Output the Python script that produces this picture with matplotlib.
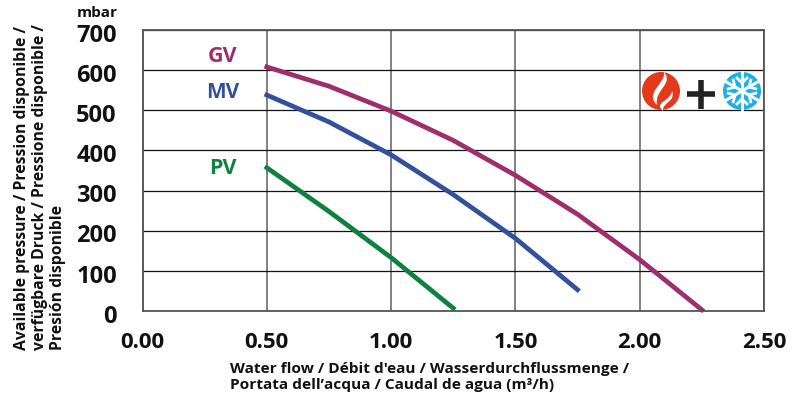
import matplotlib
matplotlib.use("Agg")
import matplotlib.pyplot as plt
from matplotlib.patches import Circle, PathPatch
from matplotlib.path import Path
from matplotlib.transforms import ScaledTranslation
import numpy as np

plt.rcParams['font.family'] = ['Open Sans', 'DejaVu Sans']

gv_x = [0.5, 0.75, 1.0, 1.25, 1.5, 1.75, 2.0, 2.25]
gv_y = [608, 560, 498, 425, 338, 241, 128, 3]
mv_x = [0.5, 0.75, 1.0, 1.25, 1.5, 1.75]
mv_y = [538, 471, 389, 290, 181, 53]
pv_x = [0.5, 0.75, 1.0, 1.25]
pv_y = [357, 248, 133, 7]
x_ticks = [0.0, 0.5, 1.0, 1.5, 2.0, 2.5]
y_ticks = [0, 100, 200, 300, 400, 500, 600, 700]
x_title = "Water flow / Débit d'eau / Wasserdurchflussmenge /\nPortata dell’acqua / Caudal de agua (m³/h)"
y_title = "Available pressure / Pression disponible /\nverfügbare Druck / Pressione disponible /\nPresión disponible"
GV, MV, PV = '#9c2f6c', '#33509c', '#0f8040'

W, H = 799, 400
fig = plt.figure(figsize=(W/100, H/100), dpi=100)
L, R, T, B = 142.5, 764, 30, 311
ax = fig.add_axes([L/W, 1-B/H, (R-L)/W, (B-T)/H])
ax.set_xlim(0, 2.5)
ax.set_ylim(0, 700)
ax.set_xticks(x_ticks)
ax.set_yticks(y_ticks)
ax.set_xticklabels([f"{v:.2f}" for v in x_ticks], fontsize=16, fontweight='bold', color='#111111')
ax.set_yticklabels([str(v) for v in y_ticks], fontsize=17, fontweight='bold', color='#111111')
ax.tick_params(length=0, axis='x', pad=15)
ax.tick_params(length=0, axis='y', pad=18.5)
shift = ScaledTranslation(0, -2/72, fig.dpi_scale_trans)
for lab in ax.get_yticklabels():
    lab.set_ha('right')
    lab.set_transform(lab.get_transform() + shift)
ax.grid(axis='x', color='#777777', lw=1.3)
ax.grid(axis='y', color='#111111', lw=0.9)
ax.set_axisbelow(True)
for s in ax.spines.values():
    s.set_color('#555555')
    s.set_linewidth(1.3)

for x, y, c in [(gv_x, gv_y, GV), (mv_x, mv_y, MV), (pv_x, pv_y, PV)]:
    ax.plot(x, y, color=c, lw=3.4, solid_capstyle='projecting', clip_on=False)

def px(x, y, s, **kw):
    fig.text(x/W, 1-y/H, s, **kw)

px(223, 56, "GV", color=GV, fontsize=15.5, fontweight='bold', ha='center', va='center')
px(222.5, 92, "MV", color=MV, fontsize=15, fontweight='bold', ha='center', va='center')
px(222.5, 169, "PV", color=PV, fontsize=15.5, fontweight='bold', ha='center', va='center')
px(97, 13, "mbar", color='#111111', fontsize=11, fontweight='bold', ha='center', va='center')
px(230, 377, x_title, color='#111111', fontsize=11.1, fontweight='bold', ha='left', va='center', linespacing=1.15)
px(40, 350, y_title, color='#111111', fontsize=11.3, fontweight='bold', ha='center', va='bottom', rotation=90, linespacing=1.2, multialignment='left')

# heating + cooling icon, in pixel space
ic = fig.add_axes([0, 0, 1, 1], facecolor='none')
ic.set_xlim(0, W); ic.set_ylim(H, 0); ic.axis('off')
ic.add_patch(Circle((661, 91), 19, color='#e5391b', lw=0))
def flame(pts):
    codes = [Path.MOVETO] + [Path.CURVE4]*(len(pts)-1)
    ic.add_patch(PathPatch(Path(pts, codes), fc='white', lw=0))
flame([(664, 72), (674, 84), (654, 90), (657, 105), (644, 92), (666, 84), (664, 72)])
flame([(672, 91), (676, 102), (662, 102), (663, 111), (653, 102), (670, 102), (672, 91)])
ic.plot([687, 715], [94, 94], color='#222222', lw=4, solid_capstyle='butt')
ic.plot([701, 701], [80, 109], color='#222222', lw=4, solid_capstyle='butt')
ic.add_patch(Circle((742, 91), 19, color='#1cb0e4', lw=0))
for a in np.deg2rad(np.arange(0, 360, 60) + 90):
    d = np.array([np.cos(a), np.sin(a)])
    n = np.array([-d[1], d[0]])
    c0 = np.array([742, 91])
    ic.plot(*zip(c0, c0 + d*19.5), color='white', lw=2.2)
    ic.plot(*zip(c0 + d*8, c0 + d*13 + n*5), color='white', lw=2.0)
    ic.plot(*zip(c0 + d*8, c0 + d*13 - n*5), color='white', lw=2.0)

fig.savefig("out.png", dpi=100)
